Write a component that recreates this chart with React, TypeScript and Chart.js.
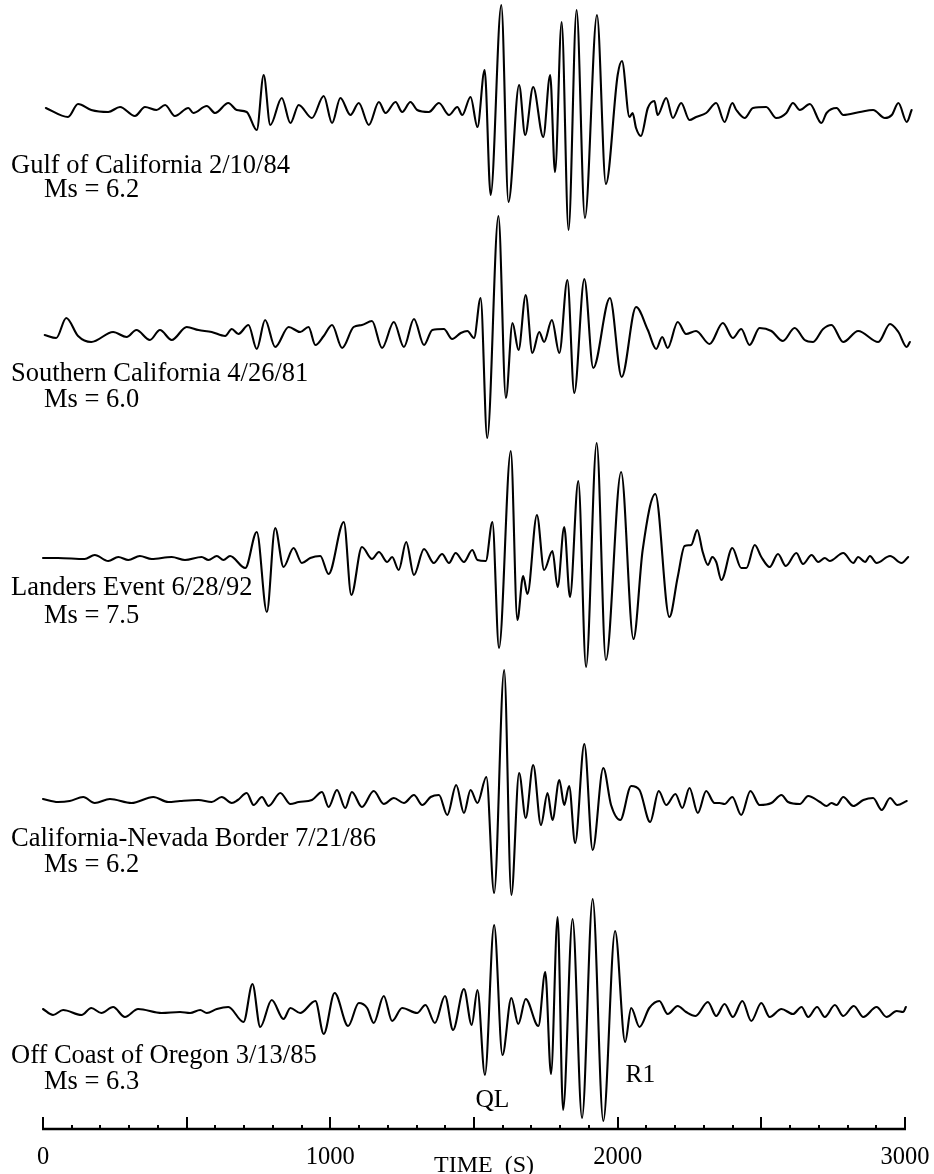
import React, { useEffect, useRef } from "react";
import { Chart, registerables } from "chart.js";

Chart.register(...registerables);

// ---------------- data (time in seconds, relative amplitude, positive = up) ----------------
const gulfOfCalifornia: [number, number][] = [
  [10, 2], [87, -7], [122, 6], [168, 0], [227, -2], [268, 3], [320, -6], [355, 3], [395, 0], [425, 5],
  [459, -6], [506, 2], [523, -3], [570, 4], [599, -3], [645, 7], [674, 0], [709, -2], [744, -20], [768, 35],
  [791, -15], [831, 12], [861, -13], [890, 5], [936, -8], [977, 14], [1006, -13], [1035, 12], [1070, -5], [1099, 7],
  [1134, -15], [1169, 8], [1192, -3], [1227, 8], [1250, -2], [1279, 8], [1302, 0], [1343, -2], [1378, 7], [1413, -5],
  [1442, 3], [1459, -5], [1488, 13], [1512, -17], [1537, 40], [1558, -85], [1595, 105], [1620, -92], [1657, 25], [1678, -25],
  [1706, 23], [1741, -27], [1765, 35], [1782, -62], [1805, 88], [1829, -120], [1857, 100], [1886, -108], [1928, 95], [1959, -74],
  [2000, 35], [2015, 49], [2041, -7], [2052, -3], [2064, -18], [2081, -26], [2105, 2], [2128, 9], [2139, -5], [2169, 12],
  [2192, -8], [2221, 7], [2250, -10], [2273, -7], [2308, -3], [2343, 7], [2372, -12], [2399, 7], [2413, 0], [2442, -8],
  [2471, 2], [2517, 3], [2552, -8], [2587, -3], [2610, 7], [2634, 0], [2669, 6], [2709, -13], [2727, -3], [2762, 2],
  [2785, -5], [2843, -2], [2889, 0], [2930, -8], [2954, -5], [2977, 7], [3006, -12], [3023, 0],
];

const southernCalifornia: [number, number][] = [
  [6, 0], [46, -3], [81, 17], [122, -1], [168, -7], [244, 3], [291, -2], [325, 5], [372, -5], [407, 5],
  [448, -5], [500, 8], [541, 5], [587, 3], [634, -1], [657, 6], [680, 1], [715, 10], [744, -14], [773, 15],
  [808, -12], [855, 8], [895, 3], [924, 8], [948, -10], [977, -1], [1006, 10], [1041, -13], [1081, 8], [1110, 10],
  [1145, 14], [1180, -13], [1221, 13], [1256, -12], [1291, 16], [1326, -10], [1355, 5], [1395, 6], [1424, -4], [1454, 2],
  [1477, 4], [1500, -3], [1523, 37], [1546, -103], [1585, 119], [1611, -63], [1634, 12], [1655, -15], [1680, 40], [1703, -18],
  [1727, 3], [1744, -7], [1771, 15], [1797, -18], [1825, 55], [1849, -58], [1884, 56], [1915, -33], [1973, 37], [2014, -42],
  [2064, 28], [2105, 5], [2134, -14], [2155, -2], [2174, -13], [2209, 13], [2238, 1], [2273, 4], [2320, -9], [2366, 12],
  [2401, -3], [2430, 6], [2459, -10], [2494, 7], [2535, 4], [2575, -6], [2616, 7], [2651, -5], [2680, -7], [2715, 6],
  [2744, 10], [2785, -7], [2837, 4], [2907, -7], [2948, 11], [2977, 3], [3006, -12], [3017, -7],
];

const landersEvent: [number, number][] = [
  [0, 0], [52, 0], [145, -1], [180, 3], [227, -3], [262, 1], [297, -2], [337, 2], [378, -1], [448, 1],
  [494, -2], [552, 1], [576, -2], [605, 2], [628, -2], [651, 2], [704, -10], [744, 26], [779, -54], [808, 30],
  [837, -9], [872, 10], [901, -5], [930, 0], [965, 2], [994, -16], [1047, 36], [1073, -37], [1110, 11], [1145, -1],
  [1169, 6], [1198, -4], [1215, 1], [1238, -12], [1264, 16], [1291, -17], [1326, 9], [1360, -5], [1389, 4], [1413, -5],
  [1436, 5], [1465, -4], [1494, 8], [1512, -2], [1541, -3], [1564, 36], [1587, -90], [1628, 107], [1651, -62], [1671, -18],
  [1686, -36], [1719, 43], [1744, -12], [1773, 7], [1791, -29], [1814, 31], [1834, -39], [1863, 77], [1890, -109], [1927, 115],
  [1959, -102], [2012, 86], [2055, -81], [2087, 8], [2131, 64], [2180, -59], [2209, -19], [2233, 12], [2256, 13], [2277, 28],
  [2296, 6], [2314, -7], [2329, 1], [2343, -4], [2361, -22], [2399, 10], [2430, -10], [2448, -10], [2477, 13], [2500, 1],
  [2529, -9], [2558, 4], [2585, -8], [2622, 5], [2645, -6], [2675, 3], [2698, -4], [2721, 0], [2738, -3], [2785, 5],
  [2820, -5], [2837, 1], [2861, -4], [2878, 2], [2901, -5], [2948, 2], [2988, -5], [3011, 1],
];

const californiaNevadaBorder: [number, number][] = [
  [0, 1], [52, -2], [93, -1], [140, 3], [180, -3], [233, 1], [308, -3], [384, 3], [436, -2], [477, -1],
  [541, 0], [587, -2], [622, 3], [657, -3], [678, 0], [709, 7], [733, -5], [762, 3], [785, -6], [826, 7],
  [861, -4], [890, -2], [936, 0], [971, 8], [994, -7], [1023, 10], [1052, -8], [1075, 8], [1110, -7], [1151, 9],
  [1186, -4], [1221, 2], [1256, -3], [1291, 5], [1320, -5], [1349, 3], [1378, 5], [1407, -15], [1438, 15], [1465, -13],
  [1488, 10], [1512, -3], [1543, 23], [1570, -93], [1605, 130], [1630, -95], [1657, 27], [1680, -18], [1706, 35], [1733, -25],
  [1756, 7], [1773, -20], [1797, 20], [1814, -5], [1831, 14], [1852, -43], [1884, 56], [1913, -50], [1950, 32], [1977, -5],
  [2009, -20], [2047, 14], [2076, 10], [2113, -22], [2143, 9], [2169, -5], [2201, 6], [2225, -8], [2250, 12], [2279, -13],
  [2308, 9], [2337, -3], [2355, -3], [2372, -4], [2399, 3], [2430, -15], [2462, 9], [2494, -5], [2535, -3], [2570, 5],
  [2593, -2], [2634, -4], [2663, 4], [2704, -2], [2727, -6], [2744, -3], [2762, -5], [2785, 3], [2820, -6], [2855, 0],
  [2889, 2], [2919, -10], [2948, 2], [2973, -5], [3006, -1],
];

const offCoastOfOregon: [number, number][] = [
  [0, 1], [35, -5], [70, 0], [134, -5], [168, 2], [203, -3], [244, 3], [285, -7], [331, 1], [413, -3],
  [477, -2], [512, -3], [547, 0], [570, -3], [605, 1], [645, 3], [698, -12], [729, 26], [756, -17], [796, 10],
  [837, -9], [861, 2], [895, -3], [948, 9], [977, -24], [1015, 17], [1062, -16], [1099, 7], [1128, 2], [1151, -13],
  [1186, 14], [1215, -11], [1250, 2], [1302, -3], [1331, 5], [1364, -13], [1399, 14], [1427, -20], [1465, 21], [1492, -15],
  [1512, 20], [1538, -65], [1570, 85], [1599, -45], [1630, 12], [1654, -14], [1680, 11], [1724, -16], [1748, 38], [1768, -64],
  [1791, 93], [1810, -100], [1843, 91], [1876, -108], [1913, 111], [1950, -111], [1991, 79], [2026, -32], [2047, 2], [2076, -17],
  [2110, 2], [2145, 9], [2174, -4], [2209, 4], [2238, -2], [2271, -6], [2314, 8], [2343, -6], [2372, 6], [2401, -7],
  [2434, 9], [2465, -11], [2500, 7], [2529, -7], [2570, 1], [2610, -4], [2640, 3], [2663, -7], [2694, 3], [2721, -7],
  [2756, 5], [2785, -6], [2822, 4], [2855, -7], [2901, 3], [2936, -7], [2971, -1], [2994, -2], [3003, 3],
];

const TRACES = [gulfOfCalifornia, southernCalifornia, landersEvent, californiaNevadaBorder, offCoastOfOregon];
const EVENT_NAMES = [
  "Gulf of California 2/10/84",
  "Southern California 4/26/81",
  "Landers Event 6/28/92",
  "California-Nevada Border 7/21/86",
  "Off Coast of Oregon 3/13/85",
];
const EVENT_MAGNITUDES = ["Ms = 6.2", "Ms = 6.0", "Ms = 7.5", "Ms = 6.2", "Ms = 6.3"];
const PHASE_LABELS = ["QL", "R1"];
const PHASE_TIMES = [1564, 2079];
const TIME_TICK_VALUES = [0, 1000, 2000, 3000];
const TIME_TICK_LABELS = ["0", "1000", "2000", "3000"];
const MAJOR_TICK_STEP = 500;
const MINOR_TICK_STEP = 100;
const AXIS_TITLE = "TIME  (S)";

// ---------------- layout ----------------
const W = 934;
const H = 1174;
const AXIS_LEFT_PX = 43;
const AXIS_RIGHT_PX = 905;
const AXIS_Y = 1129;
const TRACE_BASELINES = [110, 335, 558, 800, 1010];
const NAME_BASELINES = [173, 381, 595, 846, 1063];
const MAG_BASELINES = [197, 407, 623, 872, 1089];
const PHASE_BASELINES = [1107, 1082];
const SERIF = "'Liberation Serif', 'Times New Roman', serif";

const secPerPx = 3000 / (AXIS_RIGHT_PX - AXIS_LEFT_PX);
const X_MIN = -AXIS_LEFT_PX * secPerPx;
const X_MAX = (W - AXIS_LEFT_PX) * secPerPx;

const annotationPlugin = {
  id: "seismoAnnotations",
  afterDraw(chart: any) {
    const ctx: CanvasRenderingContext2D = chart.ctx;
    const xs = chart.scales.x;
    ctx.save();
    ctx.strokeStyle = "#000";
    ctx.fillStyle = "#000";

    // axis line
    ctx.lineWidth = 2.4;
    ctx.beginPath();
    ctx.moveTo(xs.getPixelForValue(0) - 1, AXIS_Y);
    ctx.lineTo(xs.getPixelForValue(3000) + 1, AXIS_Y);
    ctx.stroke();

    // ticks
    ctx.lineWidth = 2;
    for (let t = 0; t <= 3000; t += MINOR_TICK_STEP) {
      const major = t % MAJOR_TICK_STEP === 0;
      const px = Math.round(xs.getPixelForValue(t));
      ctx.beginPath();
      ctx.moveTo(px, AXIS_Y);
      ctx.lineTo(px, AXIS_Y - (major ? 12 : 4));
      ctx.stroke();
    }

    // tick labels
    ctx.font = `24.5px ${SERIF}`;
    ctx.textAlign = "center";
    ctx.textBaseline = "alphabetic";
    TIME_TICK_VALUES.forEach((v, i) => {
      ctx.fillText(TIME_TICK_LABELS[i], xs.getPixelForValue(v), 1164);
    });

    // axis title
    ctx.font = `24px ${SERIF}`;
    ctx.fillText(AXIS_TITLE, 484, 1172);

    // phase labels
    ctx.font = `25.5px ${SERIF}`;
    PHASE_LABELS.forEach((lab, i) => {
      ctx.fillText(lab, xs.getPixelForValue(PHASE_TIMES[i]), PHASE_BASELINES[i]);
    });

    // event labels
    ctx.textAlign = "left";
    ctx.font = `26.5px ${SERIF}`;
    EVENT_NAMES.forEach((name, i) => {
      ctx.fillText(name, 11, NAME_BASELINES[i]);
      ctx.fillText(EVENT_MAGNITUDES[i], 44, MAG_BASELINES[i]);
    });
    ctx.restore();
  },
};

export default function App() {
  const canvasRef = useRef<HTMLCanvasElement | null>(null);

  useEffect(() => {
    if (!canvasRef.current) return;
    const chart = new Chart(canvasRef.current, {
      type: "line",
      data: {
        datasets: TRACES.map((trace, i) => ({
          data: trace.map(([t, a]) => ({ x: t, y: TRACE_BASELINES[i] - a })),
          borderColor: "#000",
          borderWidth: 2.1,
          pointRadius: 0,
          fill: false,
          cubicInterpolationMode: "monotone" as const,
          borderJoinStyle: "round" as const,
          borderCapStyle: "round" as const,
        })),
      },
      options: {
        responsive: false,
        maintainAspectRatio: false,
        animation: false,
        events: [],
        layout: { padding: 0 },
        plugins: { legend: { display: false }, tooltip: { enabled: false } },
        scales: {
          x: { type: "linear", display: false, min: X_MIN, max: X_MAX },
          y: { type: "linear", display: false, min: 0, max: H, reverse: true },
        },
      },
      plugins: [annotationPlugin],
    });
    return () => chart.destroy();
  }, []);

  return (
    <div style={{ position: "absolute", left: 0, top: 0, width: W, height: H, background: "#fff" }}>
      <canvas ref={canvasRef} width={W} height={H} style={{ display: "block" }} />
    </div>
  );
}
